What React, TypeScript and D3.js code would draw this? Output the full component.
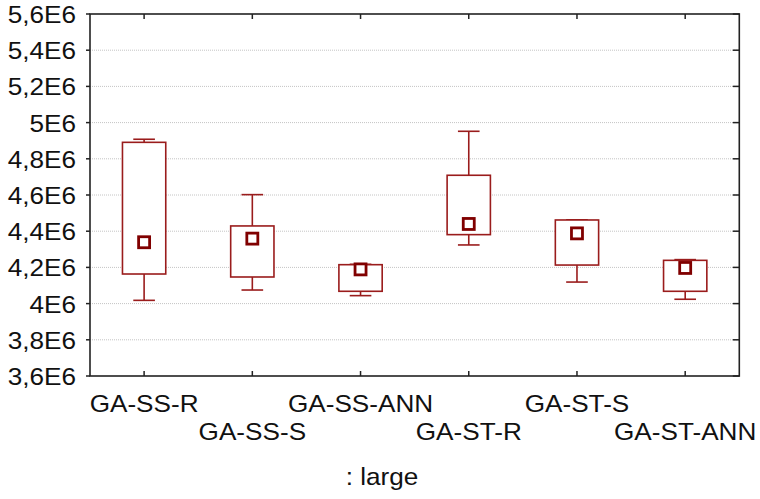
import React from "react";
import * as d3 from "d3";

const categories = ["GA-SS-R", "GA-SS-S", "GA-SS-ANN", "GA-ST-R", "GA-ST-S", "GA-ST-ANN"];
const means = [4.339e6, 4.359e6, 4.189e6, 4.44e6, 4.388e6, 4.197e6];
const boxLow = [4.1635e6, 4.147e6, 4.068e6, 4.381e6, 4.213e6, 4.068e6];
const boxHigh = [4.891e6, 4.429e6, 4.215e6, 4.709e6, 4.462e6, 4.239e6];
const whiskerLow = [4.018e6, 4.075e6, 4.044e6, 4.324e6, 4.119e6, 4.024e6];
const whiskerHigh = [4.908e6, 4.602e6, 4.217e6, 4.952e6, 4.463e6, 4.243e6];
const yTicks = [3.6e6, 3.8e6, 4.0e6, 4.2e6, 4.4e6, 4.6e6, 4.8e6, 5.0e6, 5.2e6, 5.4e6, 5.6e6];
const xTitle = ": large";

const W = 760, H = 499;
const L = 90, R = 739.3, T = 14, B = 376;
const FONT = "'Liberation Sans', Arial, sans-serif";
const SX = 1.09;

const fmt = (v: number) => {
  const m = Math.round(v / 1e5) / 10;
  return String(m).replace(".", ",") + "E6";
};

export default function App() {
  const x = d3.scaleBand<string>().domain(categories).range([L, R]).padding(0);
  const y = d3.scaleLinear().domain([3.6e6, 5.6e6]).range([B, T]);
  const bw = x.bandwidth();
  const boxW = bw * 0.4;
  const capW = bw * 0.2;
  const boxColor = "#9a1c1c";
  const meanColor = "#800000";

  return (
    <svg width={W} height={H} style={{ position: "absolute", left: 0, top: 0, background: "#fff" }}>
      {/* gridlines */}
      {yTicks.slice(1, -1).map((t) => (
        <line key={"g" + t} x1={L} x2={R} y1={y(t)} y2={y(t)} stroke="#c4c4c4" strokeWidth={1} strokeDasharray="1,1" />
      ))}
      {/* boxes */}
      {categories.map((c, i) => {
        const cx = x(c)! + bw / 2;
        return (
          <g key={c} fill="none">
            <line x1={cx} x2={cx} y1={y(whiskerHigh[i])} y2={y(boxHigh[i])} stroke={boxColor} strokeWidth={1.6} />
            <line x1={cx} x2={cx} y1={y(boxLow[i])} y2={y(whiskerLow[i])} stroke={boxColor} strokeWidth={1.6} />
            <line x1={cx - capW / 2} x2={cx + capW / 2} y1={y(whiskerHigh[i])} y2={y(whiskerHigh[i])} stroke={boxColor} strokeWidth={1.6} />
            <line x1={cx - capW / 2} x2={cx + capW / 2} y1={y(whiskerLow[i])} y2={y(whiskerLow[i])} stroke={boxColor} strokeWidth={1.6} />
            <rect x={cx - boxW / 2} y={y(boxHigh[i])} width={boxW} height={y(boxLow[i]) - y(boxHigh[i])} stroke={boxColor} strokeWidth={1.6} fill="#fff" />
            <rect x={cx - 5.5} y={y(means[i]) - 5.5} width={11} height={11} stroke={meanColor} strokeWidth={2.8} fill="#fff" />
          </g>
        );
      })}
      {/* frame */}
      <rect x={L} y={T} width={R - L} height={B - T} fill="none" stroke="#222" strokeWidth={1.6} />
      {/* y ticks left (outward) and right (inward) */}
      {yTicks.map((t) => (
        <g key={"yt" + t}>
          <line x1={L - 4} x2={L} y1={y(t)} y2={y(t)} stroke="#222" strokeWidth={1.5} />
          <line x1={R - 6.5} x2={R} y1={y(t)} y2={y(t)} stroke="#222" strokeWidth={1.5} />
          <text
            transform={`translate(76,${y(t) + 9}) scale(${SX},1)`}
            textAnchor="end"
            fontFamily={FONT}
            fontSize={24}
            fill="#111"
          >
            {fmt(t)}
          </text>
        </g>
      ))}
      {/* x ticks top & bottom (inward) */}
      {categories.map((c, i) => {
        const cx = x(c)! + bw / 2;
        return (
          <g key={"xt" + c}>
            <line x1={cx} x2={cx} y1={T} y2={T + 5} stroke="#222" strokeWidth={1.5} />
            <line x1={cx} x2={cx} y1={B} y2={B - 5} stroke="#222" strokeWidth={1.5} />
            <text
              transform={`translate(${cx},${i % 2 === 0 ? 411.5 : 440}) scale(${SX},1)`}
              textAnchor="middle"
              fontFamily={FONT}
              fontSize={24}
              fill="#111"
            >
              {c}
            </text>
          </g>
        );
      })}
      <text transform={`translate(382,485) scale(${SX},1)`} textAnchor="middle" fontFamily={FONT} fontSize={24} fill="#111">
        {xTitle}
      </text>
    </svg>
  );
}
